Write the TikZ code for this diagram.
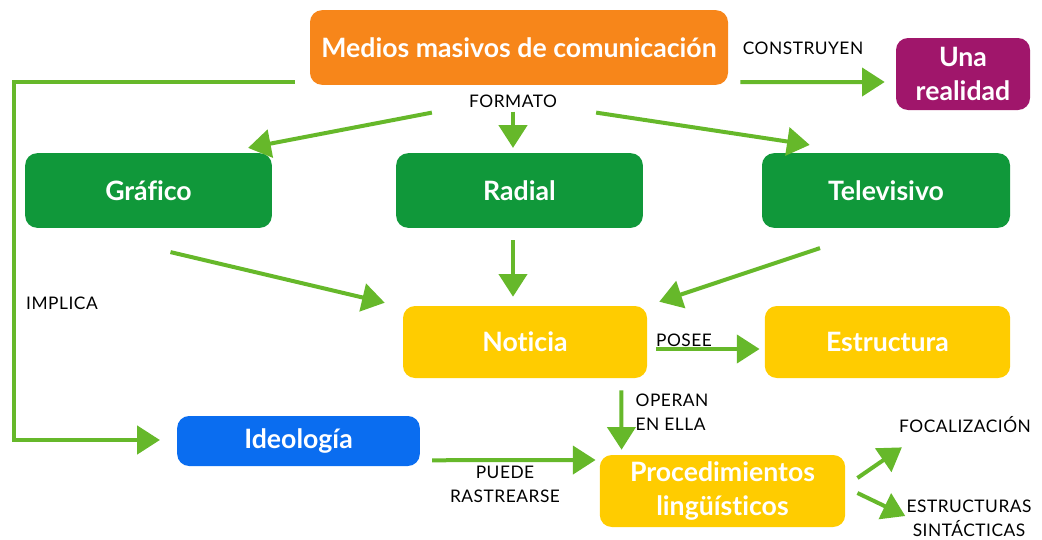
\documentclass[tikz,border=0pt]{standalone}
\usepackage{fontspec}
\setmainfont{Lato}[Ligatures=NoCommon]
\usepackage{tikz}
\usetikzlibrary{arrows.meta,calc}

\definecolor{naranja}{RGB}{247,134,26}
\definecolor{magenta}{RGB}{160,22,107}
\definecolor{verdecaja}{RGB}{16,152,58}
\definecolor{amarillo}{RGB}{255,204,0}
\definecolor{azul}{RGB}{10,109,240}
\definecolor{verdeflecha}{RGB}{102,184,42}

\tikzset{
  caja/.style={rounded corners=9pt, text=white, font=\fontsize{20}{26}\selectfont\bfseries, align=center, inner sep=0pt},
  etiqueta/.style={font=\fontsize{13}{18}\selectfont\addfontfeature{LetterSpace=3}, text=black, align=center, inner sep=0.75pt},
  flecha/.style={draw=verdeflecha, line width=3pt, -{Triangle[length=17pt,width=21pt]}},
}

\begin{document}
\begin{tikzpicture}[x=0.75pt,y=0.75pt,yscale=-1,xscale=1]
\useasboundingbox (0,0) rectangle (1042,539);

%Shape: Boxes
\node [caja, fill=naranja, minimum width=313.5pt, minimum height=56pt] (medios) at (519,47.5) {Medios masivos de comunicación};
\node [caja, fill=magenta, minimum width=100.5pt, minimum height=54pt] (realidad) at (963,74) {Una\\realidad};
\node [caja, fill=verdecaja, minimum width=185pt, minimum height=56pt] (grafico) at (148.5,190.5) {Gráfico};
\node [caja, fill=verdecaja, minimum width=185pt, minimum height=56pt] (radial) at (519.5,190.5) {Radial};
\node [caja, fill=verdecaja, minimum width=186pt, minimum height=56pt] (televisivo) at (886,190.5) {Televisivo};
\node [caja, fill=amarillo, minimum width=183pt, minimum height=54pt] (noticia) at (525,342) {Noticia};
\node [caja, fill=amarillo, minimum width=184pt, minimum height=54pt] (estructura) at (887.5,342) {Estructura};
\node [caja, fill=azul, minimum width=182pt, minimum height=37.5pt] (ideologia) at (298.5,441) {Ideología};
\node [caja, fill=amarillo, minimum width=184pt, minimum height=54pt] (proced) at (722.5,491) {Procedimientos\\lingüísticos};

% Text Node
\node [etiqueta] (construyen) at (803,48) {CONSTRUYEN};
\node [etiqueta] (formato) at (513,101) {FORMATO};
\node [etiqueta] (implica) at (62,303) {IMPLICA};
\node [etiqueta] (posee) at (684,340) {POSEE};
\node [etiqueta, align=left] (operan) at (672,412) {OPERAN\\EN ELLA};
\node [etiqueta] (puede) at (505,484) {PUEDE\\RASTREARSE};
\node [etiqueta] (focal) at (965,425) {FOCALIZACIÓN};
\node [etiqueta] (sintac) at (969,518) {ESTRUCTURAS\\SINTÁCTICAS};
\coordinate (izq) at (14,260);

%Straight Lines
\draw [flecha] ($(medios.south east)+(12,-3)$) -- ($(realidad.west)+(-11,8)$);
\draw [flecha] ($(formato.south west)+(-36,4)$) -- ($(grafico.north east)+(-24,-5)$);
\draw [flecha] ($(formato.south)+(0,3)$) -- ($(formato.south |- radial.north)+(0,-5)$);
\draw [flecha] ($(formato.south east)+(38,4)$) -- ($(televisivo.north west)+(48,-8)$);
\draw [flecha] ($(grafico.south)+(22,24)$) -- ($(noticia.north west)+(-18,-3)$);
\draw [flecha] ($(formato.south |- radial.south)+(0,12)$) -- ($(formato.south |- noticia.north)+(0,-9)$);
\draw [flecha] ($(televisivo.south)+(-66,20)$) -- ($(noticia.north east)+(12,-4)$);
\draw [flecha] ($(noticia.east)+(9,7)$) -- ($(estructura.west)+(-5,7)$);
\draw [flecha] ($(noticia.south east)+(-26,12)$) -- ($(proced.north west)+(22,-5)$);
\draw [flecha] ($(ideologia.south east)+(12,-6)$) -- ($(proced.west)+(-4,-31)$);
\draw [flecha] ($(medios.south west)+(-15,-3)$) -| (izq) |- ($(ideologia.west)+(-17,-1)$);
\draw [flecha] ($(proced.east)+(12,-13)$) -- ($(focal.south west)+(4,13)$);
\draw [flecha] ($(proced.east)+(12,2)$) -- ($(sintac.west)+(0,-2)$);

\end{tikzpicture}
\end{document}
